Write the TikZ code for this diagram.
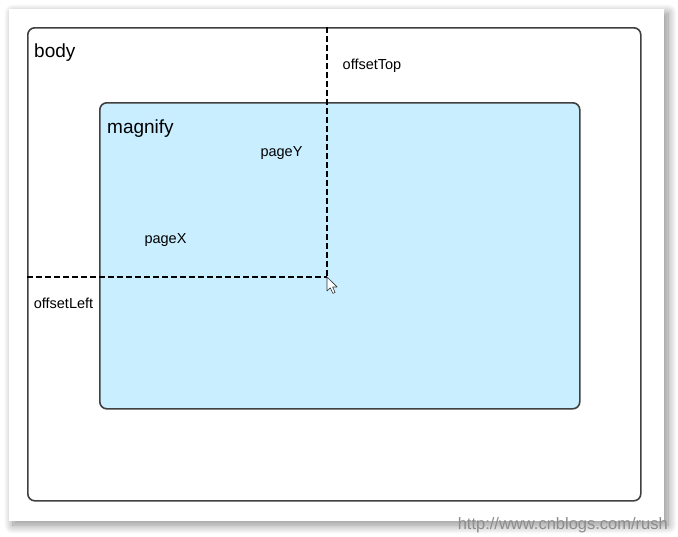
\documentclass[tikz,border=0pt]{standalone}
\usepackage{fontspec}
\setmainfont{Liberation Sans}
\usetikzlibrary{shadows.blur}
\definecolor{boxline}{HTML}{404040}
\definecolor{magfill}{HTML}{C9EEFF}
\tikzset{
  panel/.style={draw=boxline, line width=1.6pt, rounded corners=7pt},
  title/.style={font=\fontsize{19}{19}\selectfont, anchor=west, inner sep=0pt},
  lbl/.style={font=\fontsize{14.5}{15}\selectfont, inner sep=0pt},
  guide/.style={line width=1.6pt, dash pattern=on 6pt off 3pt}
}
\begin{document}
\begin{tikzpicture}[x=1pt,y=-1pt]
\useasboundingbox (0,0) rectangle (678,536);
% page with shadow
\fill[white, blur shadow={shadow xshift=4pt, shadow yshift=-4pt, shadow blur radius=9pt, shadow blur steps=14, shadow opacity=45}] (9,9) rectangle (664,521);
% body
\node[panel, minimum width=613pt, minimum height=473pt, anchor=north west] (body) at (27,27) {};
\node[title] (bodylbl) at (34,52.5) {body};
% magnify
\node[panel, fill=magfill, minimum width=480pt, minimum height=306pt, anchor=north west] (mag) at (99,102) {};
\node[title] (maglbl) at (107,128.5) {magnify};
% guides
\coordinate (top) at (327,27);
\coordinate (left) at (27,277);
\coordinate (ptr) at (327,277);
\draw[guide] (top) -- (ptr);
\draw[guide] (left) -- (ptr);
% cursor
\draw[fill=white, draw=black!80, line width=0.6pt, line join=round]
  (ptr) -- ++(0,14) -- ++(3.3,-3.2) -- ++(2.6,5.6) -- ++(2.2,-1) -- ++(-2.5,-5.4) -- ++(4.6,0) -- cycle;
% labels
\node[lbl] (otop) at (372,66) {offsetTop};
\node[lbl] (py) at (281.5,153) {pageY};
\node[lbl] (px) at (165.5,240) {pageX};
\node[lbl] (oleft) at (63.5,303) {offsetLeft};
\node[font=\fontsize{16.5}{17}\selectfont, text=black!45, anchor=east, inner sep=0pt] (wm) at (668,525) {http://www.cnblogs.com/rush};
\end{tikzpicture}
\end{document}
